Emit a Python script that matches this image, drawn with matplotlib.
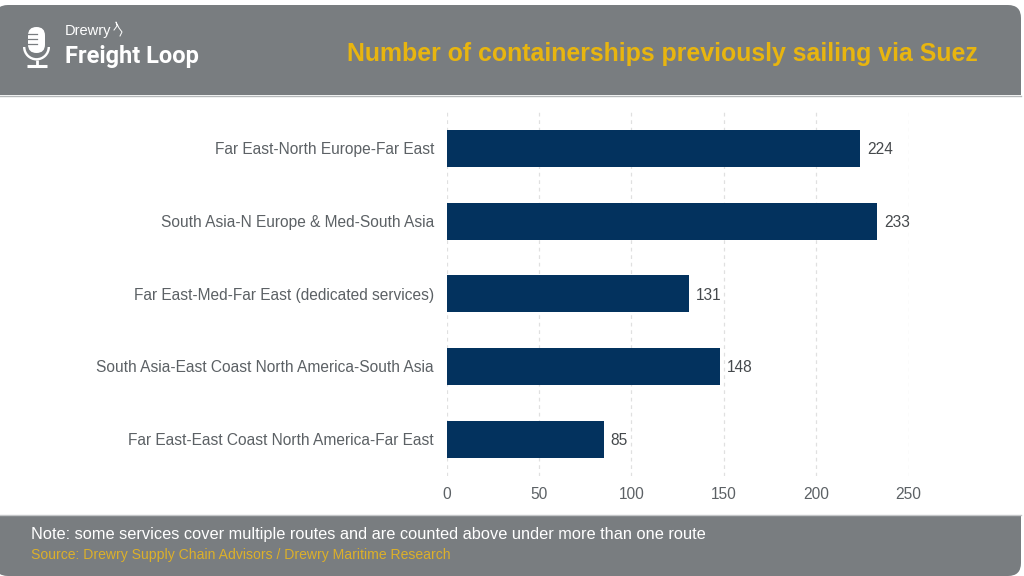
import matplotlib
matplotlib.use("Agg")
import matplotlib.pyplot as plt
from matplotlib.patches import FancyBboxPatch, Rectangle, Wedge

routes = [
    "Far East-North Europe-Far East",
    "South Asia-N Europe & Med-South Asia",
    "Far East-Med-Far East (dedicated services)",
    "South Asia-East Coast North America-South Asia",
    "Far East-East Coast North America-Far East",
]
ships = [224, 233, 131, 148, 85]
x_ticks = [0, 50, 100, 150, 200, 250]

GREY = "#797d80"
NAVY = "#03325e"
YELLOW = "#e8b50f"
SOURCE_YELLOW = "#dcb02a"
TEXT = "#5c6165"

plt.rcParams["font.family"] = ["Liberation Sans", "DejaVu Sans"]

fig = plt.figure(figsize=(10.24, 5.76), dpi=100, facecolor="white")

# overlay in pixel coordinates for the header and footer bands
bg = fig.add_axes([0, 0, 1, 1], zorder=0)
bg.set_xlim(0, 1024)
bg.set_ylim(576, 0)
bg.axis("off")

bg.add_patch(FancyBboxPatch((-5, 5), 1026, 571, boxstyle="round,pad=0,rounding_size=13",
                            fc=GREY, ec="none"))
bg.add_patch(Rectangle((0, 95), 1021, 420, fc="white", ec="none"))
bg.plot([0, 1021], [95.5, 95.5], color="#b5b8ba", lw=1)
bg.plot([0, 1021], [514.5, 514.5], color="#c4c6c8", lw=1)

# microphone icon
bg.add_patch(FancyBboxPatch((28, 27), 17, 26, boxstyle="round,pad=0,rounding_size=8.5",
                            fc="white", ec="none"))
for y in [34, 39, 44]:
    bg.plot([28, 37], [y, y], color=GREY, lw=0.9)
bg.add_patch(Wedge((36.5, 47), 13.5, 0, 180, width=2.4, fc="white", ec="none"))
bg.plot([36.5, 36.5], [60, 65], color="white", lw=2, solid_capstyle="butt")
bg.plot([27, 47], [65.5, 65.5], color="white", lw=2.2, solid_capstyle="butt")

bg.text(65, 31.5, "Drewry", color="white", fontsize=10.5, va="center", ha="left")
bg.plot([114, 117, 116, 119, 122, 120], [30, 26, 22, 28, 32, 36], color="white", lw=0.7)
bg.text(65, 57, "Freight Loop", color="white", fontsize=17, fontweight="bold", va="center",
        ha="left", family=["Roboto", "Liberation Sans"])
bg.text(978, 54, "Number of containerships previously sailing via Suez", color=YELLOW,
        fontsize=17.9, fontweight="bold", va="center", ha="right")

bg.text(31, 535, "Note: some services cover multiple routes and are counted above under more than one route",
        color="white", fontsize=11.75, va="center", ha="left")
bg.text(31, 554.5, "Source: Drewry Supply Chain Advisors / Drewry Maritime Research",
        color=SOURCE_YELLOW, fontsize=10.1, va="center", ha="left")

# chart area: x 446.5-908.5 for 0-250, y 112-475.5
ax = fig.add_axes([446.5 / 1024, 1 - 475.5 / 576, 462 / 1024, 363.5 / 576], zorder=1)
ax.patch.set_alpha(0)
ax.barh(range(len(routes)), ships, height=0.51, color=NAVY, zorder=3)
ax.set_xlim(0, 250)
ax.set_ylim(4.5, -0.5)
ax.set_yticks(range(len(routes)), routes)
ax.set_xticks(x_ticks)
ax.tick_params(axis="both", length=0, labelsize=11.2, labelcolor=TEXT)
ax.tick_params(axis="y", pad=9)
ax.tick_params(axis="x", pad=8)
ax.grid(axis="x", color="#e0e0e0", linestyle=(0, (3, 3)), linewidth=0.9, zorder=0)
ax.set_axisbelow(True)
for side in ax.spines.values():
    side.set_visible(False)
for i, v in enumerate(ships):
    ax.annotate(str(v), (v, i), xytext=(5, -1), textcoords="offset points", va="center",
                ha="left", color="#45494c", fontsize=11.2)

fig.savefig("out.png", dpi=100)
